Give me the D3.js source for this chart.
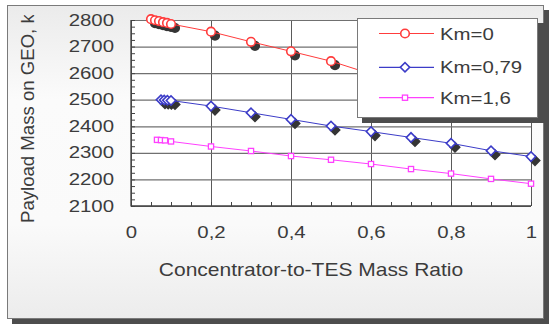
<!DOCTYPE html>
<html>
<head>
<meta charset="utf-8">
<script src="https://cdn.jsdelivr.net/npm/d3@7"></script>
<style>
  body { margin: 0; background: #fff; }
  svg { display: block; }
  text { font-family: "Liberation Sans", Arial, sans-serif; fill: #3c3c3c; }
</style>
</head>
<body>
<div id="chart"></div>
<script>
// data
const km0X = [0.05, 0.06, 0.07, 0.08, 0.09, 0.1, 0.2, 0.3, 0.4, 0.5, 0.6, 0.7, 0.8, 0.9, 1];
const km0Y = [2803, 2799, 2796, 2792, 2789, 2785, 2756, 2718, 2682, 2645, 2597, 2560, 2523, 2486, 2450];
const km079X = [0.075, 0.083, 0.091, 0.1, 0.2, 0.3, 0.4, 0.5, 0.6, 0.7, 0.8, 0.9, 1];
const km079Y = [2500, 2499, 2498, 2497, 2476, 2451, 2426, 2401, 2380, 2358, 2336, 2308, 2286];
const km16X = [0.065, 0.075, 0.085, 0.1, 0.2, 0.3, 0.4, 0.5, 0.6, 0.7, 0.8, 0.9, 1];
const km16Y = [2349, 2348, 2347, 2343, 2324, 2307, 2288, 2274, 2258, 2239, 2222, 2202, 2184];
const seriesNames = ["Km=0", "Km=0,79", "Km=1,6"];
const xTicks = [0, 0.2, 0.4, 0.6, 0.8, 1];
const yTicks = [2100, 2200, 2300, 2400, 2500, 2600, 2700, 2800];

const W = 549, H = 326;
const plot = { left: 131, right: 531, top: 20, bottom: 206 };
const stretch = 1.2; // glyphs in the picture are drawn wide

const svg = d3.select("#chart").append("svg").attr("width", W).attr("height", H);
const defs = svg.append("defs");

const grad = defs.append("linearGradient").attr("id", "bg").attr("x1", 0).attr("y1", 0).attr("x2", 0).attr("y2", 1);
grad.append("stop").attr("offset", "0").attr("stop-color", "#ebebeb");
grad.append("stop").attr("offset", "0.3").attr("stop-color", "#fbfbfb");
grad.append("stop").attr("offset", "0.7").attr("stop-color", "#fafafa");
grad.append("stop").attr("offset", "1").attr("stop-color", "#ececec");

defs.append("clipPath").attr("id", "titleClip")
  .append("rect").attr("x", 0).attr("y", 15).attr("width", 60).attr("height", 300);

// outer frame with shadow
svg.append("rect").attr("x", 12).attr("y", 10).attr("width", 537).attr("height", 314).attr("fill", "#4d4d4d");
svg.append("rect").attr("x", 7.5).attr("y", 5.5).attr("width", 536).attr("height", 313)
  .attr("fill", "url(#bg)").attr("stroke", "#7a7a7a");

const x = d3.scaleLinear().domain([0, 1]).range([plot.left, plot.right]);
const y = d3.scaleLinear().domain([2100, 2800]).range([plot.bottom, plot.top]);
const pw = plot.right - plot.left, ph = plot.bottom - plot.top;

svg.append("rect").attr("x", plot.left).attr("y", plot.top).attr("width", pw).attr("height", ph).attr("fill", "#fff");

// grid lines
svg.append("g").attr("transform", `translate(0,${plot.bottom})`)
  .call(d3.axisBottom(x).tickValues(xTicks).tickSize(-ph).tickFormat(""))
  .call(g => g.select(".domain").remove())
  .selectAll("line").attr("stroke", "#5a5a5a").attr("stroke-width", 1);
svg.append("g").attr("transform", `translate(${plot.left},0)`)
  .call(d3.axisLeft(y).tickValues(yTicks).tickSize(-pw).tickFormat(""))
  .call(g => g.select(".domain").remove())
  .selectAll("line").attr("stroke", "#707070").attr("stroke-width", 1.2);

// minor ticks pointing inward
svg.append("g").attr("transform", `translate(0,${plot.bottom})`)
  .call(d3.axisBottom(x).tickValues(d3.range(0, 1.001, 0.05)).tickSize(-4).tickFormat(""))
  .call(g => g.select(".domain").remove())
  .selectAll("line").attr("stroke", "#444");
svg.append("g").attr("transform", `translate(${plot.left},0)`)
  .call(d3.axisLeft(y).tickValues(d3.range(2100, 2801, 25)).tickSize(-4).tickFormat(""))
  .call(g => g.select(".domain").remove())
  .selectAll("line").attr("stroke", "#444");

// axis lines
svg.append("line").attr("x1", plot.left).attr("x2", plot.left).attr("y1", plot.top).attr("y2", plot.bottom + 0.5)
  .attr("stroke", "#404040").attr("stroke-width", 1.3);
svg.append("line").attr("x1", plot.left).attr("x2", plot.right).attr("y1", plot.bottom).attr("y2", plot.bottom)
  .attr("stroke", "#404040").attr("stroke-width", 1.3);

// tick labels
svg.append("g").attr("transform", `translate(${plot.left},0)`)
  .call(d3.axisLeft(y).tickValues(yTicks).tickSize(0).tickFormat(d3.format("d")))
  .call(g => g.select(".domain").remove())
  .selectAll("text")
  .attr("x", null).attr("dy", null).attr("y", 5)
  .attr("transform", `translate(-17,0) scale(${stretch},1)`)
  .style("font-size", "17px").style("font-family", '"Liberation Sans", Arial, sans-serif').attr("fill", "#3c3c3c");

svg.append("g").attr("transform", `translate(0,${plot.bottom})`)
  .call(d3.axisBottom(x).tickValues(xTicks).tickSize(0).tickFormat(d => String(d).replace(".", ",")))
  .call(g => g.select(".domain").remove())
  .selectAll("text")
  .attr("y", null).attr("dy", null)
  .attr("transform", `translate(0,32) scale(${stretch},1)`)
  .style("font-size", "17px").style("font-family", '"Liberation Sans", Arial, sans-serif').attr("fill", "#3c3c3c");

// axis titles
svg.append("text").attr("transform", `translate(311,275.5) scale(${stretch},1)`)
  .attr("text-anchor", "middle").style("font-size", "17.5px")
  .text("Concentrator-to-TES Mass Ratio");
svg.append("g").attr("clip-path", "url(#titleClip)")
  .append("text").attr("transform", "translate(33.5,223) rotate(-90)")
  .style("font-size", "18.6px")
  .text("Payload Mass on GEO, kg");

// series
const series = [
  { xs: km0X, ys: km0Y, color: "#ff3c3c", marker: "circle", shadow: true },
  { xs: km079X, ys: km079Y, color: "#3c3cc8", marker: "diamond", shadow: true },
  { xs: km16X, ys: km16Y, color: "#ff40ff", marker: "square", shadow: false }
];

function marker(g, type, color, cx, cy, shadow) {
  const fill = shadow ? "#353535" : "#fff";
  const stroke = shadow ? "#353535" : color;
  if (type === "circle") {
    g.append("circle").attr("cx", cx).attr("cy", cy).attr("r", 4.3)
      .attr("fill", fill).attr("stroke", stroke).attr("stroke-width", 1.6);
  } else if (type === "diamond") {
    g.append("path").attr("d", d3.symbol(d3.symbolSquare, 44)())
      .attr("transform", `translate(${cx},${cy}) rotate(45)`)
      .attr("fill", fill).attr("stroke", stroke).attr("stroke-width", 1.6);
  } else {
    g.append("rect").attr("x", cx - 2.6).attr("y", cy - 2.6).attr("width", 5.2).attr("height", 5.2)
      .attr("fill", fill).attr("stroke", stroke).attr("stroke-width", 1.3);
  }
}

const line = d3.line().x(d => x(d[0])).y(d => y(d[1]));
series.forEach(s => {
  const pts = s.xs.map((v, i) => [v, s.ys[i]]);
  const g = svg.append("g");
  if (s.shadow) pts.forEach(p => marker(g, s.marker, s.color, x(p[0]) + 4, y(p[1]) + 4, true));
  g.append("path").datum(pts).attr("d", line).attr("fill", "none").attr("stroke", s.color).attr("stroke-width", 1);
  pts.forEach(p => marker(g, s.marker, s.color, x(p[0]), y(p[1]), false));
});

// legend
const lg = svg.append("g");
lg.append("rect").attr("x", 362).attr("y", 23).attr("width", 182).attr("height", 100).attr("fill", "#4d4d4d");
lg.append("rect").attr("x", 357.5).attr("y", 18.5).attr("width", 180).attr("height", 99)
  .attr("fill", "#fff").attr("stroke", "#7a7a7a");
const rows = [33.5, 67.3, 97.7];
series.forEach((s, i) => {
  lg.append("line").attr("x1", 379).attr("x2", 434).attr("y1", rows[i]).attr("y2", rows[i])
    .attr("stroke", s.color).attr("stroke-width", 1.2);
  marker(lg, s.marker, s.color, 405, rows[i], false);
  lg.append("text").attr("transform", `translate(440,${rows[i] + 6}) scale(${stretch},1)`)
    .style("font-size", "17px").text(seriesNames[i]);
});
</script>
</body>
</html>
